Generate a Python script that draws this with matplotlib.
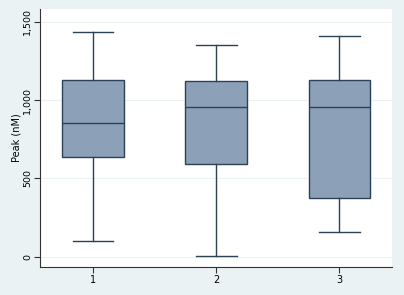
import matplotlib
matplotlib.use("Agg")
import matplotlib.pyplot as plt

groups = ["1", "2", "3"]
whislo = [99, 3, 159]
q1 = [637, 592, 373]
med = [853, 955, 955]
q3 = [1127, 1124, 1127]
whishi = [1436, 1353, 1408]
yticks = [0, 500, 1000, 1500]
yticklabels = ["0", "500", "1,000", "1,500"]

bg = "#EAF2F3"
fill = "#8CA1B7"
edge = "#2C4257"

fig = plt.figure(figsize=(4.04, 2.95), dpi=100, facecolor=bg)
ax = fig.add_axes([40/404, 1-267/295, 352/404, 258/295])
ax.set_facecolor("white")

stats = []
for i, g in enumerate(groups):
    stats.append(dict(label=g, whislo=whislo[i], q1=q1[i], med=med[i],
                      q3=q3[i], whishi=whishi[i], fliers=[]))

ax.bxp(stats, positions=[1, 2, 3], widths=0.5, patch_artist=True,
       showfliers=False,
       boxprops=dict(facecolor=fill, edgecolor=edge, linewidth=1.0),
       medianprops=dict(color=edge, linewidth=1.0),
       whiskerprops=dict(color=edge, linewidth=1.0),
       capprops=dict(color=edge, linewidth=1.0),
       capwidths=0.33)

ax.set_xlim(0.569, 3.427)
ax.set_ylim(-64, 1580)
ax.set_yticks(yticks)
ax.set_yticklabels(yticklabels, rotation=90, va="center", fontsize=6.8)
ax.set_xticks([1, 2, 3])
ax.set_xticklabels(groups, fontsize=7)
ax.set_ylabel("Peak (nM)", fontsize=7, labelpad=1)
ax.yaxis.grid(True, color=bg, linewidth=0.8)
ax.set_axisbelow(True)
for s in ["top", "right"]:
    ax.spines[s].set_visible(False)
for s in ["left", "bottom"]:
    ax.spines[s].set_color("#333333")
    ax.spines[s].set_linewidth(0.8)
ax.tick_params(axis="both", length=4, width=0.8, color="#333333", pad=1.5)
ax.tick_params(axis="y", labelsize=6.8)
ax.tick_params(axis="x", labelsize=7, pad=2)

fig.savefig("out.png", dpi=100, facecolor=bg)
